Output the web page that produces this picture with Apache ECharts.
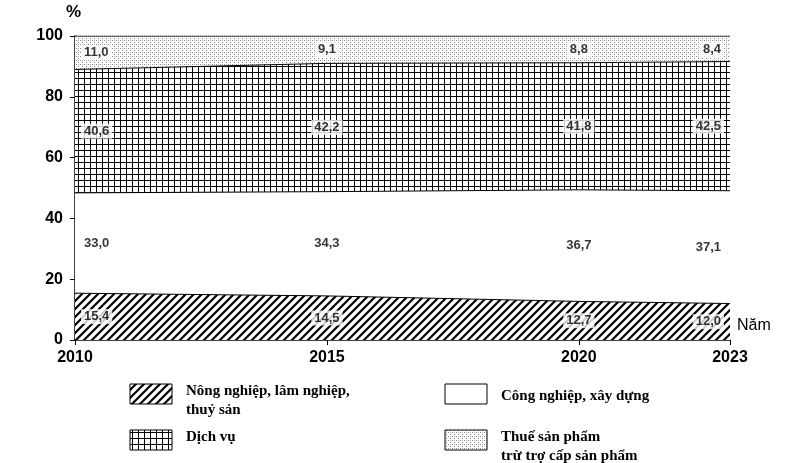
<!DOCTYPE html>
<html><head><meta charset="utf-8">
<script src="https://cdn.jsdelivr.net/npm/echarts@6/dist/echarts.min.js"></script>
<style>body{margin:0;background:#fff}#c{width:793px;height:463px}</style>
</head><body><div id="c"></div>
<script>
const years=[2010,2015,2020,2023];
const agri=[15.4,14.5,12.7,12.0];
const indus=[33.0,34.3,36.7,37.1];
const serv=[40.6,42.2,41.8,42.5];
const tax=[11.0,9.1,8.8,8.4];
const names=['Nông nghiệp, lâm nghiệp,\nthuỷ sản','Công nghiệp, xây dựng','Dịch vụ','Thuế sản phẩm\ntrừ trợ cấp sản phẩm'];

function mk(w,h,draw){const c=document.createElement('canvas');c.width=w;c.height=h;const g=c.getContext('2d');g.fillStyle='#fff';g.fillRect(0,0,w,h);draw(g);return c;}
const hatch=mk(8,8,g=>{g.strokeStyle='#000';g.lineWidth=2.2;g.beginPath();g.moveTo(-2,10);g.lineTo(10,-2);g.moveTo(-2,2);g.lineTo(2,-2);g.moveTo(6,10);g.lineTo(10,6);g.stroke();});
const grid=mk(6,6,g=>{g.fillStyle='#000';g.fillRect(0,0,6,1);g.fillRect(0,0,1,6);});
const dots=mk(4,4,g=>{g.fillStyle='#888';g.fillRect(0,0,1,1);g.fillRect(2,2,1,1);g.fillStyle='#bbb';g.fillRect(2,0,1,1);});
const pats=[hatch,null,grid,dots];
const sets=[agri,indus,serv,tax];
// cumulative tops
const cum=[];let run=years.map(()=>0);
sets.forEach(arr=>{run=run.map((b,j)=>Math.min(b+arr[j],100));cum.push(run.slice());});
const series=[];
for(let i=3;i>=0;i--){series.push({type:'line',symbol:'none',z:2+(3-i),
  data:cum[i].map((v,j)=>[years[j],v]),lineStyle:{color:'#000',width:1},
  areaStyle:{opacity:1,color:pats[i]?{image:pats[i],repeat:'repeat'}:'#fff'}});}
const lab=[];
years.forEach((y,j)=>{let base=0;sets.forEach(arr=>{lab.push({value:[y,Math.min(base+arr[j]/2,95.5)],t:arr[j].toFixed(1).replace('.',','),j});base+=arr[j];});});
series.push({type:'scatter',symbolSize:0,z:10,data:lab.map(d=>({value:d.value,label:{
  show:true,formatter:d.t,position:d.j===0?'right':(d.j===3?'left':'inside'),distance:d.j===0||d.j===3?6:0,
  backgroundColor:'#fff',padding:[1,3],color:'#000',fontSize:13,fontFamily:'Arial',fontWeight:'bold'}}))});
const ch=echarts.init(document.getElementById('c'));
const legPos=[[130,384],[445,384],[130,430],[445,430]];
const graphic=[{type:'text',left:66,top:4,style:{text:'%',font:'bold 17px Arial',fill:'#000'}},
 {type:'text',left:737,top:318,style:{text:'Năm',font:'16px Arial',fill:'#000'}}];
legPos.forEach((p,i)=>{graphic.push({type:'rect',shape:{x:p[0],y:p[1],width:42,height:20},style:{fill:pats[i]?{image:pats[i],repeat:'repeat'}:'#fff',stroke:'#000',lineWidth:1}});
 graphic.push({type:'text',x:p[0]+56,y:p[1]+(i===1?3:-2),style:{text:names[i],font:'bold 15px "Liberation Serif"',fill:'#000',lineHeight:19}});});
ch.setOption({animation:false,
 grid:{left:75,right:63,top:36,bottom:123},
 xAxis:{type:'value',min:2010,max:2023,splitLine:{show:false},
  axisLine:{lineStyle:{color:'#000',width:1.5}},
  axisTick:{customValues:years,lineStyle:{color:'#000'}},
  axisLabel:{customValues:years,formatter:v=>String(v),color:'#000',fontSize:16,fontWeight:'bold',fontFamily:'Arial',margin:10}},
 yAxis:{type:'value',min:0,max:100,interval:20,splitLine:{show:false},
  axisLine:{show:true,lineStyle:{color:'#000',width:1.5}},axisTick:{show:true,lineStyle:{color:'#000'}},
  axisLabel:{color:'#000',fontSize:16,fontWeight:'bold',fontFamily:'Arial',margin:12}},
 series, graphic});
</script></body></html>
